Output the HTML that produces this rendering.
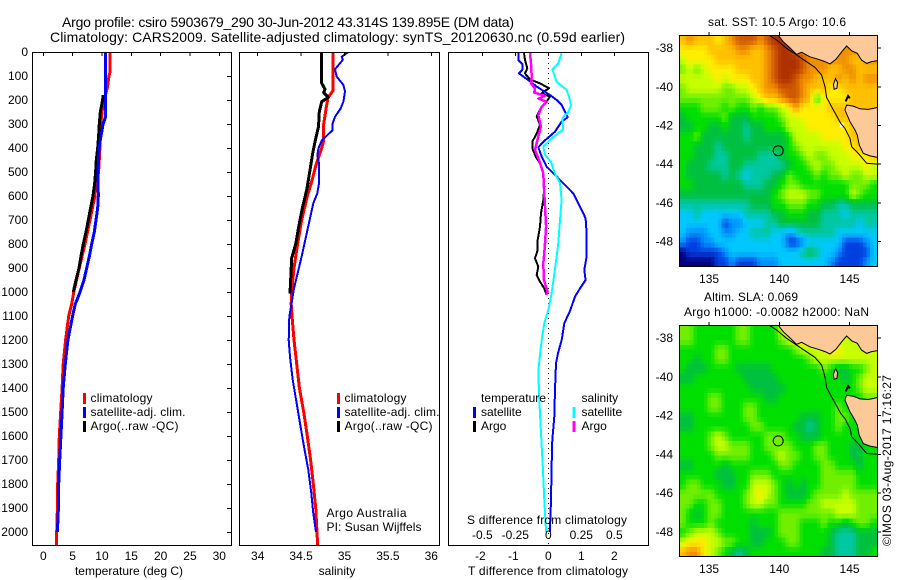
<!DOCTYPE html>
<html>
<head>
<meta charset="utf-8">
<title>Argo profile</title>
<style>
html,body{margin:0;padding:0;background:#fff;}
svg{display:block;}
text{font-family:"Liberation Sans",sans-serif;font-size:12px;fill:#000;}
.t14{font-size:14px;}
.mid{text-anchor:middle;}
</style>
</head>
<body>
<svg id="figure" xmlns="http://www.w3.org/2000/svg" width="900" height="580" viewBox="0 0 900 580">
<defs>
<clipPath id="clipMap1"><rect x="679.5" y="35.5" width="198" height="231"/></clipPath>
<clipPath id="clipMap2"><rect x="679.5" y="325.5" width="198" height="231"/></clipPath>
<clipPath id="clipP1"><rect x="32.5" y="52.5" width="199" height="493"/></clipPath>
<clipPath id="clipP2"><rect x="239.5" y="52.5" width="200" height="493"/></clipPath>
<clipPath id="clipP3"><rect x="448.5" y="52.5" width="200" height="493"/></clipPath>
</defs>

<text class="t14" x="62" y="27" textLength="452" lengthAdjust="spacing">Argo profile: csiro 5903679_290 30-Jun-2012 43.314S 139.895E (DM data)</text>
<text class="t14" x="50" y="42" textLength="575" lengthAdjust="spacing">Climatology: CARS2009. Satellite-adjusted climatology: synTS_20120630.nc (0.59d earlier)</text>

<g id="layerMap1" clip-path="url(#clipMap1)"></g>
<g id="layerMap2" clip-path="url(#clipMap2)"></g>
<g id="layerP1" clip-path="url(#clipP1)"></g>
<g id="layerP2" clip-path="url(#clipP2)"></g>
<g id="layerP3" clip-path="url(#clipP3)"></g>
<g id="layerAxes"></g>

<rect x="32.5" y="52.5" width="199" height="493" fill="none" stroke="#000" shape-rendering="crispEdges"/>
<rect x="239.5" y="52.5" width="200" height="493" fill="none" stroke="#000" shape-rendering="crispEdges"/>
<rect x="448.5" y="52.5" width="200" height="493" fill="none" stroke="#000" shape-rendering="crispEdges"/>
<rect x="679.5" y="35.5" width="198" height="231" fill="none" stroke="#000" shape-rendering="crispEdges"/>
<rect x="679.5" y="325.5" width="198" height="231" fill="none" stroke="#000" shape-rendering="crispEdges"/>

<text class="mid" x="129" y="575">temperature (deg C)</text>
<text class="mid" x="337" y="575">salinity</text>
<text class="mid" x="548" y="575" textLength="160" lengthAdjust="spacing">T difference from climatology</text>
<text class="mid" x="547" y="524" textLength="160" lengthAdjust="spacing">S difference from climatology</text>

<g>
<rect x="83" y="393" width="3" height="11" fill="#f00"/>
<rect x="83" y="407" width="3" height="11" fill="#00f"/>
<rect x="83" y="421" width="3" height="11" fill="#000"/>
<text x="90.5" y="402" textLength="62" lengthAdjust="spacing">climatology</text>
<text x="90.5" y="416" textLength="95" lengthAdjust="spacing">satellite-adj. clim.</text>
<text x="90.5" y="430" textLength="88" lengthAdjust="spacing">Argo(..raw -QC)</text>
</g>
<g>
<rect x="337" y="393" width="3" height="11" fill="#f00"/>
<rect x="337" y="407" width="3" height="11" fill="#00f"/>
<rect x="337" y="421" width="3" height="11" fill="#000"/>
<text x="344.5" y="402" textLength="62" lengthAdjust="spacing">climatology</text>
<text x="344.5" y="416" textLength="95" lengthAdjust="spacing">satellite-adj. clim.</text>
<text x="344.5" y="430" textLength="88" lengthAdjust="spacing">Argo(..raw -QC)</text>
</g>
<text x="326.5" y="517" textLength="80" lengthAdjust="spacing">Argo Australia</text>
<text x="326.5" y="531" textLength="95" lengthAdjust="spacing">PI: Susan Wijffels</text>

<g>
<text x="481" y="402" textLength="65" lengthAdjust="spacing">temperature</text>
<text x="581.5" y="402">salinity</text>
<rect x="473" y="407" width="3" height="11" fill="#00f"/>
<rect x="473" y="421" width="3" height="11" fill="#000"/>
<rect x="572.5" y="407" width="3" height="11" fill="#00ffff"/>
<rect x="572.5" y="421" width="3" height="11" fill="#ff00ff"/>
<text x="481" y="416">satellite</text>
<text x="481" y="430">Argo</text>
<text x="581.5" y="416">satellite</text>
<text x="581.5" y="430">Argo</text>
</g>

<text class="mid" x="777" y="26" textLength="138" lengthAdjust="spacing">sat. SST: 10.5 Argo: 10.6</text>
<text x="704" y="301" textLength="94" lengthAdjust="spacing">Altim. SLA: 0.069</text>
<text x="684" y="316" textLength="185" lengthAdjust="spacing">Argo h1000: -0.0082 h2000: NaN</text>
<text transform="translate(891,546) rotate(-90)" textLength="171" lengthAdjust="spacing">©IMOS 03-Aug-2017 17:16:27</text>
</svg>

<script>
/* ---- profile data: depth (m) and value arrays ---- */
const tempClimDepth = [0,80,100,150,200,250,300,400,500,550,600,700,800,900,1000,1050,1100,1200,1300,1400,1500,1600,1700,1800,1900,2000,2055];
const tempClimValues = [11.4,11.4,11.2,10.9,10.35,10.0,9.8,9.65,9.43,9.0,8.8,7.96,7.1,6.14,5.2,4.84,4.33,3.8,3.4,3.2,2.96,2.73,2.62,2.45,2.4,2.28,2.28];
const tempSatDepth = [0,200,250,270,300,350,400,500,600,650,700,750,800,850,900,950,1000,1030,1050,1100,1200,1300,1400,1500,1600,1700,1800,1900,2000];
const tempSatValues = [10.63,10.63,10.6,10.6,10.2,9.83,9.5,9.33,9.38,9.27,8.98,8.7,8.25,7.85,7.4,6.94,6.26,5.8,5.46,5.0,4.2,3.75,3.4,3.2,3.0,2.8,2.62,2.57,2.4];
const tempArgoDepth = [180,200,250,300,350,400,450,500,550,600,650,700,750,800,850,900,950,1000];
const tempArgoValues = [10.2,10.1,9.72,9.55,9.43,9.27,9.04,8.92,8.75,8.47,8.07,7.67,7.28,6.82,6.43,6.08,5.57,5.11];

const salClimDepth = [0,160,190,230,300,370,400,430,470,540,600,700,800,900,1000,1050,1100,1200,1300,1400,1500,1600,1700,1800,1900,2000,2055];
const salClimValues = [34.87,34.87,34.81,34.79,34.76,34.76,34.737,34.71,34.672,34.622,34.571,34.507,34.46,34.418,34.391,34.386,34.395,34.418,34.449,34.48,34.53,34.571,34.61,34.64,34.668,34.683,34.69];
const salSatDepth = [0,20,33,72,103,137,165,207,235,270,297,325,369,401,429,464,547,589,630,693,769,853,922,985,1047,1102,1200,1270,1366,1464,1547,1644,1741,1838,1922,2000];
const salSatValues = [35.044,34.968,34.98,34.891,34.91,34.987,35.006,34.987,34.956,34.891,34.864,34.864,34.737,34.70,34.687,34.706,34.706,34.687,34.64,34.603,34.556,34.506,34.46,34.418,34.39,34.364,34.357,34.372,34.403,34.449,34.487,34.533,34.583,34.618,34.64,34.672];
const salArgoDepth = [0,130,155,170,189,207,249,311,374,422,492,575,644,728,797,860,922,1006];
const salArgoValues = [34.737,34.737,34.775,34.76,34.813,34.737,34.71,34.70,34.66,34.634,34.603,34.565,34.518,34.472,34.44,34.39,34.384,34.372];

const diffTSatDepth = [0,33,50,75,89,117,144,179,200,221,272,290,332,374,397,436,478,519,589,658,693,756,853,908,950,985,1019,1079,1130,1200,1250,1297,1408,1519,1617,1728,1867,2000];
const diffTSatValues = [-0.909,-0.909,-0.788,-0.788,-0.888,-0.606,-0.352,0.05,0.254,0.405,0.587,0.405,0.203,-0.15,-0.303,-0.2,-0.05,0.254,0.758,1.01,1.13,1.16,1.16,1.09,1.13,0.96,0.81,0.657,0.485,0.405,0.303,0.233,0.203,0.182,0.121,0.1,0.082,0.05];
const diffTArgoDepth = [5,33,68,89,114,131,151,172,186,207,228,267,304,339,374,401,436,464,506,561,617,672,728,783,825,860,894,929,957,985,1012];
const diffTArgoValues = [-0.737,-0.706,-0.636,-0.706,-0.555,-0.252,0.021,-0.2,0.05,-0.05,-0.2,-0.352,-0.252,-0.352,-0.485,-0.485,-0.382,-0.252,-0.15,-0.12,-0.15,-0.22,-0.252,-0.32,-0.32,-0.403,-0.303,-0.352,-0.252,-0.12,-0.05];
const diffSSatDepth = [5,47,72,124,158,186,221,249,276,322,360,394,429,457,506,547,617,700,797,908,1006,1075,1130,1200,1262,1332,1450,1589,1728,1867,2000];
const diffSSatValues = [0.101,0.076,0.03,0.063,0.139,0.157,0.172,0.152,0.106,0.114,0.025,-0.038,-0.025,0.02,0.05,0.089,0.101,0.089,0.076,0.05,0.025,0,-0.03,-0.05,-0.063,-0.076,-0.068,-0.055,-0.042,-0.03,-0.017];
const diffSArgoDepth = [5,47,103,131,151,169,183,194,207,221,228,263,311,353,408,450,506,561,644,728,839,880,950,999,1012];
const diffSArgoValues = [-0.139,-0.131,-0.126,-0.131,-0.101,-0.106,-0.025,-0.076,-0.012,-0.038,-0.05,-0.076,-0.055,-0.076,-0.101,-0.07,-0.038,-0.033,-0.025,-0.017,-0.03,-0.038,-0.033,-0.005,-0.017];

/* ---- tick values ---- */
const depthTicks = [0,100,200,300,400,500,600,700,800,900,1000,1100,1200,1300,1400,1500,1600,1700,1800,1900,2000];
const tempTicks = [0,5,10,15,20,25,30];
const salTicks = [34,34.5,35,35.5,36];
const diffTTicks = [-2,-1,0,1,2];
const diffSTicks = [-0.5,-0.25,0,0.25,0.5];
const lonTicks = [135,140,145];
const latTicks = [-38,-40,-42,-44,-46,-48];

/* ---- map data: levels of the colour scale, rows north to south ---- */
const heatLevelColors = ['#00007f','#0040e0','#0090ff','#00c8ff','#00c8a0','#00c040','#00e000','#70f000','#c8ff00','#ffee00','#ffc000','#f09000','#d05800','#b03000'];
const sstGrid = [
[10,11,10,10,10,9,10,11,12,12,12,11,12,13,13,13,11,11,11,11,11,11,11,11,11,11,11,11],
[9,9,9,9,10,10,10,10,11,11,10,10,11,12,13,13,12,11,11,11,11,11,11,11,11,11,11,11],
[8,9,9,9,9,10,10,10,10,10,10,10,11,12,13,13,13,12,11,11,11,11,11,11,10,10,11,11],
[7,8,7,8,9,9,9,9,10,10,10,10,11,12,13,13,13,12,11,11,11,10,10,11,11,10,10,10],
[8,8,8,8,8,9,8,9,9,9,10,10,11,12,13,13,12,11,11,10,10,10,11,10,11,10,11,11],
[7,8,8,8,8,8,7,7,8,8,9,10,11,11,12,12,12,11,10,10,10,9,9,10,10,10,10,10],
[7,7,7,7,7,7,7,7,7,7,8,9,10,10,11,12,12,11,10,6,9,9,9,9,10,10,10,10],
[6,6,6,7,7,7,6,7,6,6,7,6,7,7,8,9,11,9,9,9,9,10,10,10,10,10,10,10],
[5,6,6,6,6,6,7,5,5,5,6,6,6,6,7,8,8,9,9,9,9,9,10,10,10,10,10,10],
[5,5,6,6,5,5,6,5,5,4,5,5,6,6,6,8,8,8,9,9,9,9,9,9,10,10,10,10],
[6,6,7,5,5,5,5,5,5,4,5,5,5,5,5,6,8,8,8,8,9,9,9,9,10,10,10,10],
[6,6,5,5,5,4,5,5,5,5,5,5,5,5,5,6,7,8,8,8,8,8,8,9,9,10,10,10],
[6,6,5,5,5,4,4,5,5,5,5,4,4,4,5,6,6,7,8,7,7,8,8,8,9,9,9,10],
[6,5,5,5,4,4,4,5,5,4,4,4,4,4,4,5,6,6,7,8,7,7,8,8,8,8,9,8],
[6,5,5,5,5,5,4,5,4,3,4,4,4,5,5,7,6,6,6,7,6,7,7,8,7,7,8,8],
[6,6,5,5,5,5,5,5,5,4,4,4,5,5,6,7,7,6,6,6,6,6,6,6,7,7,7,6],
[5,5,5,5,5,5,5,5,5,5,5,5,5,6,7,8,8,8,7,7,6,6,6,6,8,7,6,6],
[4,4,4,4,4,4,4,4,4,4,5,5,5,6,6,7,7,7,6,6,5,5,4,4,5,5,5,5],
[3,3,4,3,3,3,3,3,3,4,4,4,4,5,5,6,6,6,5,5,4,4,4,3,4,4,4,4],
[3,3,3,3,3,3,1,2,2,3,3,3,4,4,5,5,5,5,5,5,4,4,4,4,4,3,4,4],
[3,2,2,2,3,3,2,2,3,3,4,4,4,3,3,2,3,4,4,4,4,4,3,3,3,3,3,3],
[2,1,1,2,2,3,3,3,3,3,3,3,3,3,3,1,1,2,3,3,3,3,3,1,1,1,2,3],
[0,1,1,1,1,1,2,3,3,3,3,3,3,3,3,3,3,4,5,4,3,3,2,1,1,1,1,3],
[0,0,0,0,0,1,1,2,1,1,1,2,2,2,3,3,3,3,3,3,3,2,1,1,1,1,2,3]
];
const slaGrid = [
[7,7,6,6,6,6,6,6,7,7,6,6,6,6,8,8,8,8,8,8,8,8,8,8,8,8,8,8],
[7,7,6,6,6,6,6,6,7,7,6,6,6,6,7,8,8,9,8,8,8,8,8,8,8,8,8,8],
[6,6,6,6,6,7,7,6,6,6,6,6,6,6,6,6,7,8,8,8,8,9,9,8,8,8,8,8],
[6,6,5,6,6,7,7,6,6,6,6,6,6,6,6,6,6,6,7,8,8,8,8,8,8,8,8,8],
[6,5,5,5,6,6,6,6,5,5,5,5,5,6,6,6,6,6,6,6,7,6,5,5,6,6,7,8],
[5,5,6,6,6,6,6,6,6,5,5,5,5,5,6,6,6,6,6,6,6,6,6,5,6,7,8,8],
[6,6,6,6,6,6,6,6,6,6,5,5,5,5,5,6,6,6,6,6,6,6,6,6,6,7,8,8],
[6,6,6,6,7,7,6,6,6,6,6,6,5,5,6,6,6,6,6,6,6,6,6,6,6,6,7,7],
[6,6,6,6,7,7,6,6,6,7,7,6,6,6,6,6,6,6,6,6,6,6,7,6,6,6,6,6],
[5,5,6,6,6,6,6,6,6,7,7,6,6,6,6,6,6,5,5,5,6,6,7,7,6,6,6,6],
[5,5,6,6,6,6,6,6,6,6,7,7,6,6,6,6,5,5,4,5,6,6,7,6,6,6,6,6],
[6,6,6,6,7,8,7,6,6,6,6,6,7,7,7,6,6,5,5,5,6,6,6,6,6,6,6,6],
[6,6,6,6,7,8,8,7,7,7,6,6,7,7,7,7,6,6,6,7,7,6,6,6,5,5,6,6],
[6,6,6,6,6,7,7,7,7,7,6,6,6,7,8,7,7,6,6,7,7,6,6,6,5,5,6,6],
[5,5,6,6,6,6,5,6,6,6,6,6,6,6,7,7,6,6,6,6,7,7,6,6,6,5,6,6],
[6,6,6,6,6,5,5,5,6,6,7,7,7,6,6,6,6,6,6,6,7,7,7,7,7,6,6,6],
[6,7,7,6,6,6,5,5,6,6,8,8,8,7,6,5,6,5,6,6,7,7,7,7,7,6,6,6],
[7,7,7,7,7,6,6,6,6,7,8,9,8,7,6,5,5,5,6,7,7,7,7,8,7,7,7,7],
[7,7,6,6,7,7,6,6,6,7,8,8,7,7,6,6,6,6,7,7,8,8,8,8,8,7,7,7],
[7,6,5,6,7,7,6,6,6,6,6,6,6,6,7,7,7,7,7,7,7,7,8,8,8,7,7,7],
[7,6,6,6,7,6,6,6,6,6,5,6,6,6,7,7,7,6,6,6,7,6,6,5,6,7,7,6],
[6,7,8,8,8,7,6,6,6,6,5,5,5,6,7,7,7,6,6,6,6,5,4,4,4,5,5,5],
[8,9,9,9,8,8,7,7,6,6,5,5,6,6,6,7,7,6,6,6,6,5,4,4,4,5,5,5],
[10,11,11,9,8,7,6,5,4,5,6,6,6,6,6,6,6,6,6,6,5,5,4,4,4,5,5,6]
];
const gridLonWest = 132.87;
const gridLonEast = 146.97;
const gridLatNorth = -37.37;
const gridLatSouth = -49.32;

/* ---- geography in lon/lat ---- */
const northLandLon = [139.7,139.93,140.28,140.71,141.23,141.59,142.18,142.78,143.25,143.61,144.03,144.44,144.79,145.15,145.55,145.86,146.22,146.57,147.2,147.2];
const northLandLat = [-37.0,-37.36,-37.69,-37.98,-38.34,-38.24,-38.47,-38.60,-38.72,-38.84,-38.60,-38.21,-37.91,-38.16,-38.29,-38.64,-38.81,-38.72,-38.64,-37.0];
const southLandLon = [144.67,144.79,145.27,145.74,146.33,146.69,147.2,147.2,146.45,145.98,145.69,145.55,145.39,145.03];
const southLandLat = [-41.22,-40.97,-41.02,-41.16,-41.19,-41.14,-41.05,-43.70,-43.60,-43.47,-43.03,-42.52,-42.26,-41.83];
const islandLon = [144.0,144.15,144.1,143.9,143.85];
const islandLat = [-39.6,-39.8,-40.1,-40.15,-39.9];
const capeLon = [144.72,144.9,145.02];
const capeLat = [-40.78,-40.5,-40.62];
const isobathLon = [139.29,139.81,140.52,141.23,141.83,142.54,143.01,143.25,143.37,143.84,144.37,144.67,145.03,145.15,145.62,146.22,147.2];
const isobathLat = [-37.36,-37.6,-38.03,-38.38,-38.67,-39.02,-39.41,-40.02,-40.57,-41.22,-41.91,-42.17,-42.69,-43.12,-43.47,-43.98,-44.03];
const profileLon = [139.92];
const profileLat = [-43.33];
const sstMissingLon = [144.44];
const sstMissingLat = [-42];

/* ---- axis functions ---- */
const SVGNS = 'http://www.w3.org/2000/svg';
function depthY(d){ return 52 + 0.24 * d; }
function tempX(v){ return 43.3 + 5.867 * v; }
function salX(v){ return 257.7 + 86.8 * (v - 34); }
function diffTX(v){ return 548.3 + 33 * v; }
function diffSX(v){ return 548.3 + 132 * v; }
function lonX(v){ return 779.3 + 14.05 * (v - 140); }
function map1Y(v){ return 47.7 + 19.33 * (-38 - v); }
function map2Y(v){ return 337.7 + 19.36 * (-38 - v); }

function shape(tag, parent){
  const el = document.createElementNS(SVGNS, tag);
  document.getElementById(parent).appendChild(el);
  return el;
}
function profilePoints(xf, values, depths){
  return values.map(function(v,i){ return xf(v).toFixed(1) + ',' + depthY(depths[i]).toFixed(1); }).join(' ');
}
function drawProfile(parent, xf, values, depths, color, width){
  const el = shape('polyline', parent);
  el.setAttribute('points', profilePoints(xf, values, depths));
  el.setAttribute('fill', 'none');
  el.setAttribute('stroke', color);
  el.setAttribute('stroke-width', width);
  el.setAttribute('stroke-linejoin', 'round');
  el.setAttribute('shape-rendering', 'crispEdges');
  return el;
}
function tickLine(x1, y1, x2, y2){
  const el = shape('line', 'layerAxes');
  el.setAttribute('x1', x1); el.setAttribute('y1', y1);
  el.setAttribute('x2', x2); el.setAttribute('y2', y2);
  el.setAttribute('stroke', '#000');
  el.setAttribute('shape-rendering', 'crispEdges');
  return el;
}
function tickText(x, y, str, anchor){
  const el = shape('text', 'layerAxes');
  el.setAttribute('x', x);
  el.setAttribute('y', y);
  el.setAttribute('text-anchor', anchor);
  el.textContent = str;
  return el;
}

/* ---- temperature panel ---- */
let line;
line = drawProfile('layerP1', tempX, tempClimValues, tempClimDepth, '#f00', 3);


line = drawProfile('layerP1', tempX, tempArgoValues, tempArgoDepth, '#000', 3);


line = drawProfile('layerP1', tempX, tempSatValues, tempSatDepth, '#00f', 3);



/* ---- salinity panel ---- */
line = drawProfile('layerP2', salX, salClimValues, salClimDepth, '#f00', 3);


line = drawProfile('layerP2', salX, salArgoValues, salArgoDepth, '#000', 3);


line = drawProfile('layerP2', salX, salSatValues, salSatDepth, '#00f', 2);



/* ---- difference panel ---- */
const zeroLine = shape('line', 'layerP3');
zeroLine.setAttribute('x1', diffTX(0));
zeroLine.setAttribute('x2', diffTX(0));
zeroLine.setAttribute('y1', 53);
zeroLine.setAttribute('y2', 545);
zeroLine.setAttribute('stroke', '#000');
zeroLine.setAttribute('stroke-dasharray', '1 4');
zeroLine.setAttribute('shape-rendering', 'crispEdges');


line = drawProfile('layerP3', diffTX, diffTArgoValues, diffTArgoDepth, '#000', 2);


line = drawProfile('layerP3', diffTX, diffTSatValues, diffTSatDepth, '#00f', 2);


line = drawProfile('layerP3', diffSX, diffSSatValues, diffSSatDepth, '#00ffff', 2);


line = drawProfile('layerP3', diffSX, diffSArgoValues, diffSArgoDepth, '#ff00ff', 2.5);



/* ---- ticks and labels ---- */
depthTicks.forEach(function(d){
  const t = tickLine(227, depthY(d) + 0.5, 231, depthY(d) + 0.5);
  
  
  const l = tickText(28, depthY(d) + 4, String(d), 'end');
  
  
});
tempTicks.forEach(function(v){
  const t = tickLine(tempX(v), 53, tempX(v), 56);
  
  
  const l = tickText(tempX(v), 560, String(v), 'middle');
  
  
});
salTicks.forEach(function(v){
  const t = tickLine(salX(v), 53, salX(v), 56);
  
  
  const l = tickText(salX(v), 560, String(v), 'middle');
  
  
});
diffTTicks.forEach(function(v){
  const t = tickLine(diffTX(v), 53, diffTX(v), 56);
  
  
  const l = tickText(diffTX(v) - (v < 0 ? 2 : 0), 560, String(v), 'middle');
  
  
});
diffSTicks.forEach(function(v){
  const l = tickText(diffSX(v), 539, String(v), 'middle');
  
  
});
lonTicks.forEach(function(v){
  const t1 = tickLine(lonX(v), 32, lonX(v), 35);
  
  
  const t2 = tickLine(lonX(v), 322, lonX(v), 325);
  
  
  const l1 = tickText(lonX(v), 283, String(v), 'middle');
  
  
  const l2 = tickText(lonX(v), 573, String(v), 'middle');
  
  
});
latTicks.forEach(function(v){
  const t1 = tickLine(878, map1Y(v) + 0.5, 881, map1Y(v) + 0.5);
  
  
  const t2 = tickLine(878, map2Y(v) + 0.5, 881, map2Y(v) + 0.5);
  
  
  const l1 = tickText(673, map1Y(v) + 4.5, String(v), 'end');
  
  
  const l2 = tickText(673, map2Y(v) + 4.5, String(v), 'end');
  
  
});

/* ---- maps: each data cell is painted as 2x2 pixels blended toward its neighbours ---- */
const CELL_SUBDIVISION = 2;
function hexChannel(hex, i){ return parseInt(hex.substr(1 + i * 2, 2), 16); }
function levelColor(v){
  const top = heatLevelColors.length - 1;
  const t = Math.max(0, Math.min(top, v));
  const i = Math.min(top - 1, Math.floor(t));
  const f = t - i;
  const a = heatLevelColors[i];
  const b = heatLevelColors[i + 1];
  const ch = [0,1,2].map(function(k){ return Math.round(hexChannel(a,k) * (1 - f) + hexChannel(b,k) * f); });
  return 'rgb(' + ch.join(',') + ')';
}
function sampleGrid(grid, ru, cu){
  const rows = grid.length, cols = grid[0].length;
  const rp = Math.max(0, Math.min(rows - 1, ru - 0.5));
  const cp = Math.max(0, Math.min(cols - 1, cu - 0.5));
  const r0 = Math.floor(rp), c0 = Math.floor(cp);
  const r1 = Math.min(rows - 1, r0 + 1), c1 = Math.min(cols - 1, c0 + 1);
  const fr = rp - r0, fc = cp - c0;
  return (grid[r0][c0] * (1 - fc) + grid[r0][c1] * fc) * (1 - fr) + (grid[r1][c0] * (1 - fc) + grid[r1][c1] * fc) * fr;
}
function cellRect(parent, grid, r, c, sr, sc, yf){
  const n = CELL_SUBDIVISION;
  const lonStep = (gridLonEast - gridLonWest) / grid[0].length / n;
  const latStep = (gridLatNorth - gridLatSouth) / grid.length / n;
  const gc = c * n + sc, gr = r * n + sr;
  const x0 = lonX(gridLonWest + gc * lonStep);
  const x1 = lonX(gridLonWest + (gc + 1) * lonStep);
  const y0 = yf(gridLatNorth - gr * latStep);
  const y1 = yf(gridLatNorth - (gr + 1) * latStep);
  const el = shape('rect', parent);
  el.setAttribute('x', x0.toFixed(2));
  el.setAttribute('y', y0.toFixed(2));
  el.setAttribute('width', (x1 - x0 + 0.6).toFixed(2));
  el.setAttribute('height', (y1 - y0 + 0.6).toFixed(2));
  el.setAttribute('fill', levelColor(sampleGrid(grid, (gr + 0.5) / n, (gc + 0.5) / n)));
  el.setAttribute('shape-rendering', 'crispEdges');
  return el;
}
sstGrid.forEach(function(row, r){
  row.forEach(function(v, c){
    for (let sr = 0; sr < CELL_SUBDIVISION; sr++) {
      for (let sc = 0; sc < CELL_SUBDIVISION; sc++) {
        const cell = cellRect('layerMap1', sstGrid, r, c, sr, sc, map1Y);
        
        
      }
    }
  });
});
slaGrid.forEach(function(row, r){
  row.forEach(function(v, c){
    for (let sr = 0; sr < CELL_SUBDIVISION; sr++) {
      for (let sc = 0; sc < CELL_SUBDIVISION; sc++) {
        const cell = cellRect('layerMap2', slaGrid, r, c, sr, sc, map2Y);
        
        
      }
    }
  });
});
sstMissingLon.forEach(function(v, i){
  const gap = shape('rect', 'layerMap1');
  gap.setAttribute('x', (lonX(v) - 2).toFixed(1));
  gap.setAttribute('y', (map1Y(sstMissingLat[i]) - 2).toFixed(1));
  gap.setAttribute('width', '4');
  gap.setAttribute('height', '4');
  gap.setAttribute('fill', '#fff');
  
  
});
function geoPoints(lons, lats, yf){
  return lons.map(function(v,i){ return lonX(v).toFixed(1) + ',' + yf(lats[i]).toFixed(1); }).join(' ');
}
function drawLand(parent, lons, lats, yf){
  const el = shape('polygon', parent);
  el.setAttribute('points', geoPoints(lons, lats, yf));
  el.setAttribute('fill', '#fdc998');
  el.setAttribute('stroke', '#000');
  el.setAttribute('stroke-width', '1');
  return el;
}
function drawGeoLine(parent, lons, lats, yf, width){
  const el = shape('polyline', parent);
  el.setAttribute('points', geoPoints(lons, lats, yf));
  el.setAttribute('fill', 'none');
  el.setAttribute('stroke', '#000');
  el.setAttribute('stroke-width', width);
  return el;
}
function drawMarker(parent, yf){
  const el = shape('circle', parent);
  el.setAttribute('cx', lonX(profileLon[0]).toFixed(1));
  el.setAttribute('cy', yf(profileLat[0]).toFixed(1));
  el.setAttribute('r', '5');
  el.setAttribute('fill', 'none');
  el.setAttribute('stroke', '#000');
  return el;
}
let geo;
geo = drawLand('layerMap1', northLandLon, northLandLat, map1Y);


geo = drawLand('layerMap1', southLandLon, southLandLat, map1Y);


geo = drawLand('layerMap1', islandLon, islandLat, map1Y);


geo = drawGeoLine('layerMap1', capeLon, capeLat, map1Y, 2);


geo = drawGeoLine('layerMap1', isobathLon, isobathLat, map1Y, 1);


geo = drawMarker('layerMap1', map1Y);



geo = drawLand('layerMap2', northLandLon, northLandLat, map2Y);


geo = drawLand('layerMap2', southLandLon, southLandLat, map2Y);


geo = drawLand('layerMap2', islandLon, islandLat, map2Y);


geo = drawGeoLine('layerMap2', capeLon, capeLat, map2Y, 2);


geo = drawGeoLine('layerMap2', isobathLon, isobathLat, map2Y, 1);


geo = drawMarker('layerMap2', map2Y);


</script>
</body>
</html>
